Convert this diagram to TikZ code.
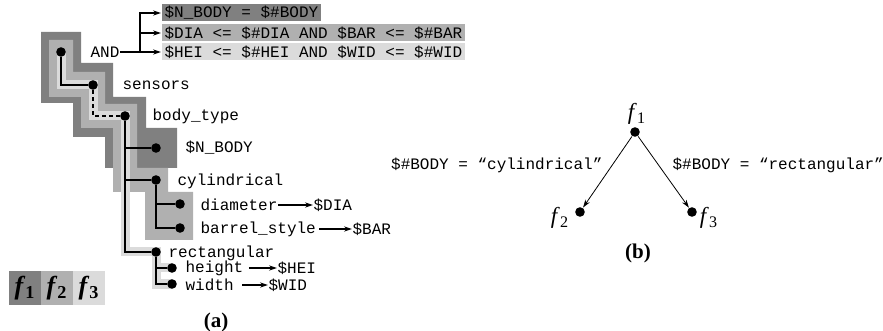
\documentclass[tikz,border=0pt]{standalone}
\usepackage{fontspec}
\setmainfont{Liberation Serif}
\setmonofont{Liberation Mono}
\usetikzlibrary{arrows.meta}

\definecolor{fone}{gray}{0.50}
\definecolor{ftwo}{gray}{0.69}
\definecolor{fthree}{gray}{0.86}

\def\fsub #1{\textit{f}\textsubscript{#1}}

\begin{document}
\begin{tikzpicture}[x=0.5pt,y=-0.5pt,
point/.style={circle, fill=black, inner sep=0pt, minimum width=4.8pt},
lbl/.style={anchor=west, inner sep=0pt, font=\ttfamily\fontsize{8}{9}\selectfont},
cond/.style={anchor=west, inner xsep=1.5pt, inner ysep=0pt, minimum height=8.5pt, font=\ttfamily\fontsize{8}{9}\selectfont},
legend/.style={minimum width=16pt, minimum height=16.5pt, inner sep=0pt, font=\fontsize{13}{14}\selectfont\bfseries},
flbl/.style={inner sep=0pt, font=\fontsize{11.5}{13}\selectfont},
caption/.style={font=\fontsize{10.5}{12}\selectfont\bfseries},
band/.style={fthree, line width=4.5pt},
tip/.style={-{Stealth[length=4pt,width=2.6pt]}},
line width=0.6pt,
]
\useasboundingbox (0,0) rectangle (883,331);

% Regions f1 and f2:
\fill[fone] (41,32) -- (81,32) -- (81,63) -- (113,63) -- (113,97) -- (146,97) -- (146,128)
  -- (177,128) -- (177,168) -- (105,168) -- (105,137) -- (73,137) -- (73,103) -- (41,103) -- cycle;
\fill[ftwo] (49,40) -- (73,40) -- (73,72) -- (105,72) -- (105,104) -- (137,104) -- (137,168)
  -- (168,168) -- (168,192) -- (193,192) -- (193,240) -- (145,240) -- (145,192) -- (113,192)
  -- (113,128) -- (81,128) -- (81,97) -- (49,97) -- cycle;

% Region f3:
\draw[band] (61,52) |- (93,85) |- (125,116) |- (156,252) |- (172,284);
\draw[band] (156,268) -- (172,268);

\node[point] at (61,52) (root) {};
\node[point] at (93,85) (sensors) {};
\node[point] at (125,116) (bodytype) {};
\node[point] at (156,148) (nbody) {};
\node[point] at (156,180) (cyl) {};
\node[point] at (180,204) (dia) {};
\node[point] at (180,228) (bar) {};
\node[point] at (156,252) (rect) {};
\node[point] at (172,268) (hei) {};
\node[point] at (172,284) (wid) {};

\draw (root) |- (sensors);
\draw[dash pattern=on 2pt off 1.5pt] (sensors) |- (bodytype);
\draw (bodytype) |- (nbody);
\draw (bodytype) |- (cyl);
\draw (bodytype) |- (rect);
\draw (cyl) |- (dia);
\draw (cyl) |- (bar);
\draw (rect) |- (hei);
\draw (rect) |- (wid);

\node[lbl] at (122,85) (sensorsl) {sensors};
\node[lbl] at (152,116) (bodytypel) {body\_type};
\node[lbl] at (185,148) (nbodyl) {\$N\_BODY};
\node[lbl] at (177,181) (cyll) {cylindrical};
\node[lbl] at (200,205) (dial) {diameter};
\node[lbl] at (200,229) (barl) {barrel\_style};
\node[lbl] at (168,253) (rectl) {rectangular};
\node[lbl] at (185,268) (heil) {height};
\node[lbl] at (185,285) (widl) {width};
\node[lbl] at (313,205) (diav) {\$DIA};
\node[lbl] at (352,229) (barv) {\$BAR};
\node[lbl] at (277,268) (heiv) {\$HEI};
\node[lbl] at (268,285) (widv) {\$WID};

\draw[tip] (dial.east) -- (diav.west);
\draw[tip] ([xshift=1.5pt]barl.east) -- (barv.west);
\draw[tip] ([xshift=2.5pt]heil.east) -- (heiv.west);
\draw[tip] ([xshift=4pt]widl.east) -- (widv.west);

% Conditions:
\node[lbl] at (90,52) (andop) {AND};
\coordinate (fork) at (140,52);
\node[cond, fill=fone] at (161,13) (q1) {\$N\_BODY = \$\#BODY};
\node[cond, fill=ftwo] at (161,33) (q2) {\$DIA <= \$\#DIA AND \$BAR <= \$\#BAR};
\node[cond, fill=fthree] at (161,52) (q3) {\$HEI <= \$\#HEI AND \$WID <= \$\#WID};
\draw (andop) -- (fork);
\draw[tip] (fork) |- (q1);
\draw[tip] (fork) |- (q2);
\draw[tip] (fork) -- (q3);

% Legend:
\node[legend, fill=fone] at (25,288) (lf1) {\fsub{1}};
\node[legend, fill=ftwo] at (57,288) (lf2) {\fsub{2}};
\node[legend, fill=fthree] at (89,288) (lf3) {\fsub{3}};
\node[caption] at (216,322) (capa) {(a)};

% Part (b):
\node[point] at (635,132) (f1) {};
\node[point] at (580,212) (f2) {};
\node[point] at (692,212) (f3) {};
\node[flbl] at (637,114) (f1l) {\fsub{1}};
\node[flbl] at (560,218) (f2l) {\fsub{2}};
\node[flbl] at (709,218) (f3l) {\fsub{3}};
\draw[tip, line width=0.4pt] (f1) -- (f2);
\draw[tip, line width=0.4pt] (f1) -- (f3);
\node[lbl, anchor=east] at (603,165) (cylcond) {\$\#BODY = “cylindrical”};
\node[lbl] at (672,165) (rectcond) {\$\#BODY = “rectangular”};
\node[caption] at (638,253) (capb) {(b)};
\end{tikzpicture}
\end{document}
